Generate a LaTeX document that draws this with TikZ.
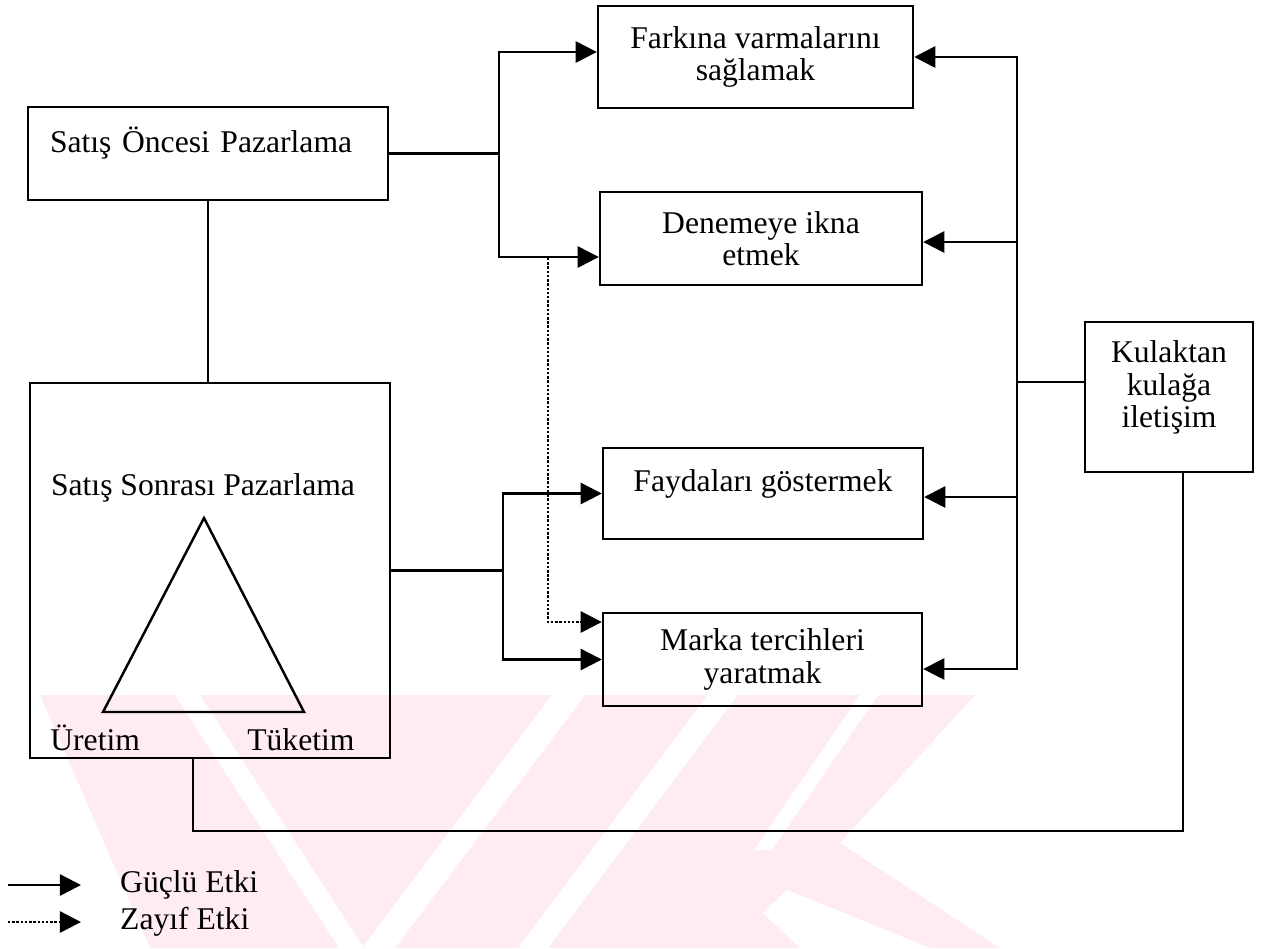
\documentclass[tikz,border=0pt]{standalone}
\usepackage{fontspec}
\setmainfont{Liberation Serif}
\usepackage{tikz}
\usetikzlibrary{calc}
\usetikzlibrary{positioning}
\usetikzlibrary{arrows.meta}

\definecolor{wmpink}{RGB}{254,236,240}

\tikzset{
  panel/.style={draw, line width=1.4pt, align=center, inner sep=0pt},
  conn/.style={line width=1.4pt},
  strong/.style={line width=1.4pt, -{Triangle[length=12pt, width=12pt]}},
  weak/.style={line width=1.4pt, densely dotted, -{Triangle[length=12pt, width=12pt]}},
}

\begin{document}
\begin{tikzpicture}[x=0.02cm, y=-0.02cm, font=\fontsize{18}{18.5}\selectfont]
  \useasboundingbox (0,0) rectangle (1267,948);

  % watermark in the background
  \fill[wmpink] (40,695) -- (975,695) -- (840,843) -- (1000,948) -- (150,948) -- cycle;
  \fill[white] (175,695) -- (200,695) -- (364,948) -- (339,948) -- cycle;
  \fill[white] (552,695) -- (585,695) -- (395,948) -- (362,948) -- cycle;
  \fill[white] (708,695) -- (738,695) -- (548,948) -- (518,948) -- cycle;
  \fill[white] (860,695) -- (878,695) -- (772,850) -- (754,850) -- cycle;
  \fill[white] (787,890) -- (930,948) -- (800,948) -- (763,913) -- cycle;

  % left column
  \node[panel, minimum width=7.2cm, minimum height=1.86cm, text width=6.32cm, align=left, text depth=0.55cm] at (208,153.5) (pre) {Satış Öncesi Pazarlama};
  \node[panel, minimum width=7.2cm, minimum height=7.5cm] at (210,570.5) (post) {};
  \node at (203,488) (posttitle) {Satış Sonrası Pazarlama};
  \draw[conn] (204,518) -- (304,712) -- (103,712) -- cycle;
  \node[anchor=base west, inner sep=0pt] at (50,750) (uret) {Üretim};
  \node[anchor=base west, inner sep=0pt] at (247,750) (tuket) {Tüketim};
  \draw[conn] (pre.south) -- (pre.south |- post.north);

  % middle column
  \node[panel, minimum width=6.3cm, minimum height=2.04cm] at (755.5,57) (fark) {Farkına varmalarını\\sağlamak};
  \node[panel, minimum width=6.44cm, minimum height=1.86cm] at (761,238.5) (dene) {Denemeye ikna\\etmek};
  \node[panel, minimum width=6.4cm, minimum height=1.82cm, text depth=0.5cm] at (763,493.5) (fayda) {Faydaları göstermek};
  \node[panel, minimum width=6.38cm, minimum height=1.86cm] at (762.5,659.5) (marka) {Marka tercihleri\\yaratmak};

  % right column
  \node[panel, minimum width=3.36cm, minimum height=3cm, text depth=0.5cm] at (1169,397) (kulak) {Kulaktan\\kulağa\\iletişim};

  % from pre-sale marketing
  \coordinate (jpre) at (499,153.5);
  \draw[conn] (pre.east) -- (jpre);
  \draw[strong] (jpre) |- ($(fark.west)+(0,-5)$);
  \draw[strong] (jpre) |- ($(dene.west)+(0,18.5)$);
  \coordinate (jdot) at (548,258);
  \draw[weak] (jdot) |- ($(marka.west)+(0,-37.5)$);

  % from after-sale marketing
  \coordinate (jpost) at (503,570.5);
  \draw[conn] (post.east) -- (jpost);
  \draw[strong] (jpost) |- (fayda.west);
  \draw[strong] (jpost) |- (marka.west);

  % word of mouth
  \coordinate (jkul) at (1017,382);
  \draw[conn] (kulak.west |- jkul) -- (jkul);
  \draw[strong] (jkul) |- (fark.east);
  \draw[strong] (jkul) |- ($(dene.east)+(0,3.5)$);
  \draw[strong] (jkul) |- ($(fayda.east)+(0,3.5)$);
  \draw[strong] (jkul) |- ($(marka.east)+(0,9.5)$);
  \draw[conn] ([xshift=0.28cm]kulak.south) -- ++(0,358) -| ([xshift=-0.34cm]post.south);

  % legend
  \coordinate (lgs) at (8,885);
  \coordinate (lgse) at (81,885);
  \draw[strong] (lgs) -- (lgse);
  \node[anchor=west] at (114,885) (lgstrong) {Güçlü Etki};
  \coordinate (lgw) at (8,922);
  \coordinate (lgwe) at (81,922);
  \draw[weak] (lgw) -- (lgwe);
  \node[anchor=west] at (114,922) (lgweak) {Zayıf Etki};
\end{tikzpicture}
\end{document}
